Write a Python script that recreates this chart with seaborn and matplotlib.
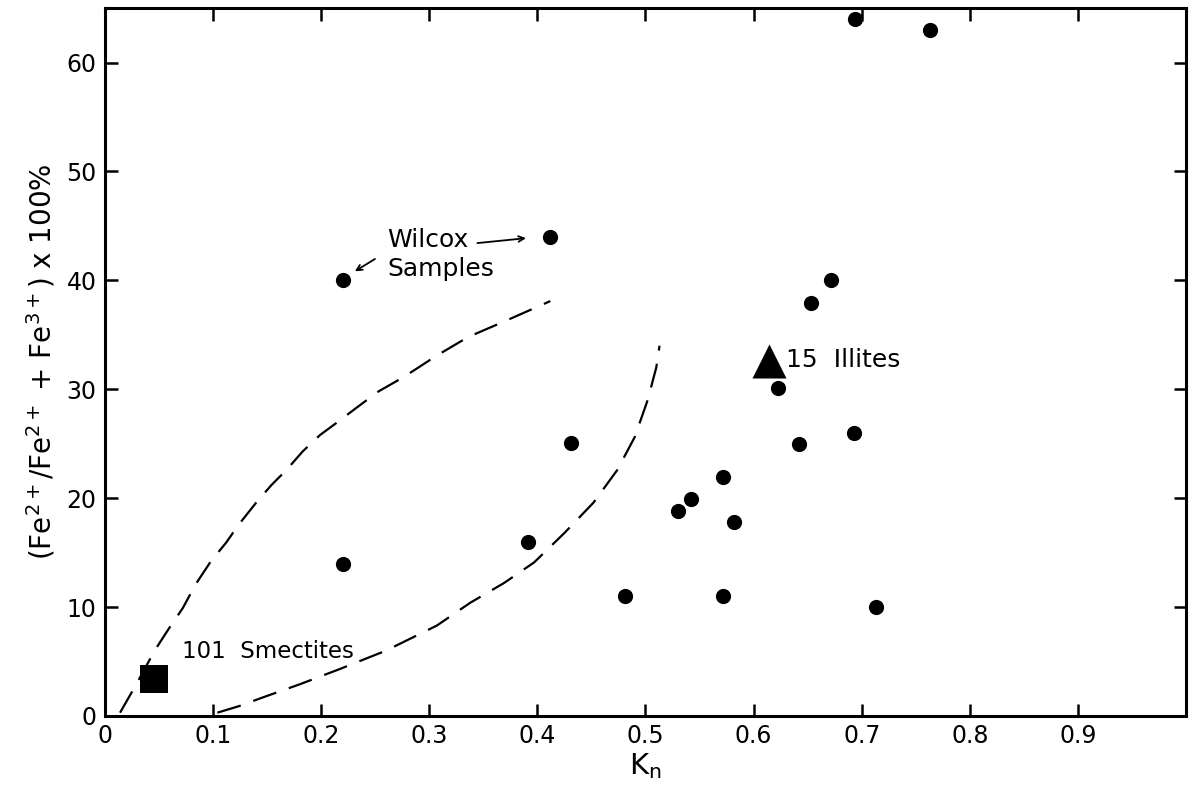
import matplotlib
matplotlib.use("Agg")
import matplotlib.pyplot as plt
import seaborn as sns
import pandas as pd

# Veri noktalari (okunan degerler)
kn_values = [0.220, 0.412, 0.694, 0.763, 0.672, 0.653, 0.623, 0.431, 0.642,
             0.693, 0.572, 0.542, 0.530, 0.582, 0.391, 0.220, 0.481, 0.572, 0.713]
fe_values = [40.0, 44.0, 64.0, 63.0, 40.0, 37.9, 30.1, 25.1, 25.0,
             26.0, 21.9, 19.9, 18.8, 17.8, 16.0, 14.0, 11.0, 11.0, 10.0]

smectite_kn = [0.045]
smectite_fe = [3.4]
illite_kn = [0.614]
illite_fe = [32.6]

# Kesikli egriler (sekilden okunan noktalar)
upper_curve_kn = [0.014, 0.029, 0.046, 0.059, 0.072, 0.084, 0.098, 0.112, 0.124,
                  0.140, 0.154, 0.168, 0.183, 0.199, 0.214, 0.234, 0.253, 0.276,
                  0.307, 0.336, 0.371, 0.412]
upper_curve_fe = [0.3, 2.9, 6.0, 8.0, 9.9, 12.1, 14.2, 15.9, 17.6,
                  19.6, 21.2, 22.6, 24.3, 25.8, 26.9, 28.4, 29.8, 31.1,
                  33.1, 34.8, 36.3, 38.1]
lower_curve_kn = [0.104, 0.124, 0.146, 0.180, 0.217, 0.260, 0.307, 0.338, 0.369,
                  0.397, 0.425, 0.452, 0.474, 0.490, 0.502, 0.510, 0.513]
lower_curve_fe = [0.3, 0.9, 1.7, 2.9, 4.3, 6.0, 8.3, 10.4, 12.2,
                  14.1, 16.8, 19.6, 22.6, 25.6, 29.0, 32.0, 34.0]

x_ticks = [0, 0.1, 0.2, 0.3, 0.4, 0.5, 0.6, 0.7, 0.8, 0.9]
x_tick_labels = ['0', '0.1', '0.2', '0.3', '0.4', '0.5', '0.6', '0.7', '0.8', '0.9']
y_ticks = [0, 10, 20, 30, 40, 50, 60]

sns.set_style("ticks")
plt.rcParams['font.family'] = ['DejaVu Sans']
plt.rcParams['text.color'] = 'black'
plt.rcParams['axes.labelcolor'] = 'black'
plt.rcParams['xtick.color'] = 'black'
plt.rcParams['ytick.color'] = 'black'

fig = plt.figure(figsize=(11.92, 7.98), dpi=100)
ax = fig.add_axes([0.088, 0.1028, 0.907, 0.887])

df = pd.DataFrame({'kn': kn_values, 'fe': fe_values})
sns.scatterplot(data=df, x='kn', y='fe', ax=ax, color='black', s=120,
                edgecolor='black', linewidth=0, zorder=3)
sns.scatterplot(x=smectite_kn, y=smectite_fe, ax=ax, marker='s', color='black',
                s=430, edgecolor='black', linewidth=0, zorder=3)
sns.scatterplot(x=illite_kn, y=illite_fe, ax=ax, marker='^', color='black',
                s=600, edgecolor='black', linewidth=0, zorder=3)

dash = (0, (11, 6))
sns.lineplot(x=upper_curve_kn, y=upper_curve_fe, ax=ax, sort=False, color='black',
             linewidth=1.6, linestyle=dash, estimator=None)
sns.lineplot(x=lower_curve_kn, y=lower_curve_fe, ax=ax, sort=False, color='black',
             linewidth=1.6, linestyle=dash, estimator=None)

# Etiketler ve oklar
ax.text(0.261, 42.4, 'Wilcox\nSamples', fontsize=18, ha='left', va='center',
        linespacing=1.25)
ax.annotate('', xy=(0.229, 40.7), xytext=(0.252, 42.1),
            arrowprops=dict(arrowstyle='->', color='black', lw=1.3))
ax.annotate('', xy=(0.392, 43.9), xytext=(0.342, 43.4),
            arrowprops=dict(arrowstyle='->', color='black', lw=1.3))
ax.text(0.071, 5.9, '101  Smectites', fontsize=16.5, ha='left', va='center')
ax.text(0.630, 32.7, '15  Illites', fontsize=18, ha='left', va='center')

ax.set_xlim(0, 1.0)
ax.set_ylim(0, 65)
ax.set_xticks(x_ticks)
ax.set_xticklabels(x_tick_labels)
ax.set_yticks(y_ticks)
ax.tick_params(direction='in', length=9, width=1.8, labelsize=17,
               top=True, right=True, pad=6)

ax.set_xlabel(r'K$_\mathrm{n}$', fontsize=21, labelpad=2)
ax.set_ylabel(r'(Fe$^{2+}$/Fe$^{2+}$ + Fe$^{3+}$) x 100%', fontsize=20, labelpad=6)

for side in ['left', 'right', 'top', 'bottom']:
    ax.spines[side].set_visible(True)
    ax.spines[side].set_linewidth(2.2)
    ax.spines[side].set_color('black')

plt.savefig('out.png', dpi=100)
